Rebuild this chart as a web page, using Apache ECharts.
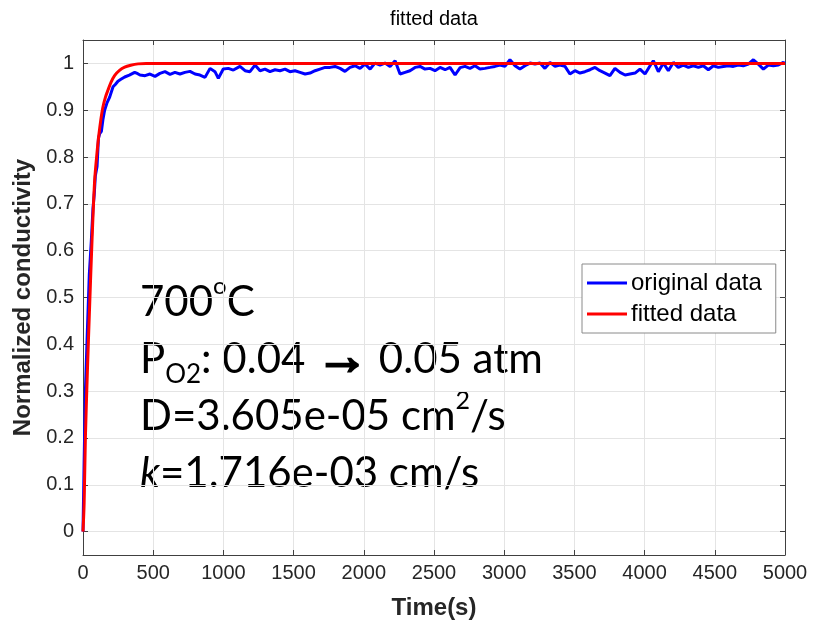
<!DOCTYPE html>
<html>
<head>
<meta charset="utf-8">
<script src="https://cdn.jsdelivr.net/npm/echarts@6/dist/echarts.min.js"></script>
<style>html,body{margin:0;padding:0;background:#fff}#c{width:813px;height:625px}</style>
</head>
<body>
<div id="c"></div>
<script>
// ---- data ----
var origTime = [0,8,17,30,45,59,71,80,88,100,110,119,131,142,154,170,190,214,230,249,270,297,330,368,390,
  406,442,477,513,548,584,620,655,691,726,762,798,833,869,905,940,964,999,1035,1071,1118,1154,1189,1225,1261,1296,1332,1368,1403,1439,1474,1510,1546,
  1582,1617,1653,1688,1724,1760,1795,1831,1866,1902,1938,1973,2009,2045,2080,2116,2151,2187,2223,2258,2294,2329,2365,2401,2436,2472,2507,2543,2579,2614,2650,2686,
  2721,2756,2792,2827,2863,2899,2934,2970,3005,3041,3077,3112,3148,3184,3219,3255,3290,3326,3362,3397,3433,3468,3504,3540,3575,3611,3647,3682,3718,3753,3789,3825,
  3861,3896,3932,3967,4003,4039,4062,4098,4134,4169,4205,4240,4276,4312,4347,4383,4418,4454,4490,4525,4561,4597,4632,4668,4703,4739,4775,4810,4846,4881,4917,4953,4988,5000];
var origVal = [0,0.15,0.30,0.42,0.55,0.62,0.69,0.72,0.76,0.78,0.84,0.85,0.855,0.88,0.90,0.915,0.928,0.95,0.955,0.962,0.966,0.971,0.975,0.981,0.978,
  0.9752,0.9738,0.9773,0.9723,0.9787,0.9823,0.9766,0.9809,0.9773,0.9809,0.9830,0.9773,0.9752,0.9702,0.9894,0.9823,0.9681,0.9879,0.9894,0.9858,0.9936,0.9844,0.9823,0.9965,0.9844,0.9879,0.9823,0.9865,0.9844,0.9879,0.9823,0.9844,0.9809,
  0.9773,0.9794,0.9844,0.9879,0.9915,0.9915,0.9936,0.9894,0.9830,0.9915,0.9950,0.9894,0.9986,0.9879,1.0007,0.9965,1.0007,0.9936,1.0057,0.9773,0.9809,0.9844,0.9915,0.9936,0.9879,0.9894,0.9844,0.9915,0.9865,0.9915,0.9752,0.9910,
  0.9936,0.9894,0.9950,0.9879,0.9894,0.9915,0.9936,0.9965,0.9936,1.0078,0.9950,0.9879,0.9950,1.0007,0.9986,1.0007,0.9894,1.0021,0.9936,0.9965,0.9936,0.9773,0.9844,0.9794,0.9823,0.9865,0.9915,0.9844,0.9794,0.9738,0.9894,0.9809,
  0.9752,0.9773,0.9794,0.9879,0.9773,0.9950,1.0057,0.9823,1.0007,0.9844,1.0021,0.9915,0.9965,0.9915,0.9950,0.9915,0.9950,0.9865,0.9950,0.9915,0.9936,0.9950,0.9936,0.9965,0.9950,0.9986,1.0078,0.9986,0.9879,0.9965,0.9950,0.9965,1.0021,1.0];
var fitTime = [0,8,17,31,47,64,83,100,112,127,142,160,178,200,225,260,297,340,392,450,5000];
var fitVal = [0,0.06,0.2,0.34,0.48,0.62,0.75,0.81,0.845,0.88,0.907,0.928,0.943,0.96,0.974,0.985,0.992,0.996,0.999,1.0,1.0];
var seriesNames = ['original data','fitted data'];
var titleText = 'fitted data';
var xName = 'Time(s)';
var yName = 'Normalized conductivity';

function pairs(t, v){ var out=[]; for (var i=0;i<t.length;i++) out.push([t[i], v[i]]); return out; }

var chart = echarts.init(document.getElementById('c'), null, {renderer:'canvas'});
var font = 'Liberation Sans, Arial, sans-serif';
var axisColor = '#404040';
var common = {
  axisLine: {show:true, onZero:false, lineStyle:{color:axisColor, width:1}},
  axisTick: {show:true, inside:true, length:5, lineStyle:{color:axisColor}}
};
chart.setOption({
  animation: false,
  backgroundColor: '#fff',
  grid: {left:83, right:28, top:40, bottom:68, containLabel:false},
  xAxis: [
    {type:'value', min:0, max:5000, interval:500, position:'bottom',
     axisLine: common.axisLine, axisTick: common.axisTick,
     axisLabel:{color:'#262626', fontSize:20, fontFamily:font, margin:8, formatter:function(v){ return String(v); }},
     splitLine:{show:true, lineStyle:{color:'#e4e4e4', width:1}},
     name:xName, nameLocation:'middle', nameGap:41,
     nameTextStyle:{color:'#262626', fontSize:24, fontWeight:'bold', fontFamily:font}},
    {type:'value', min:0, max:5000, interval:500, position:'top',
     axisLine: common.axisLine, axisTick: common.axisTick,
     axisLabel:{show:false}, splitLine:{show:false}}
  ],
  yAxis: [
    {type:'value', min:-0.05, max:1.05, splitNumber:11, position:'left',
     axisLine: common.axisLine, axisTick: common.axisTick,
     axisLabel:{color:'#262626', fontSize:20, fontFamily:font, margin:9, showMinLabel:false, showMaxLabel:false,
       formatter:function(v){ var r=Math.round(v*10)/10; if (Math.abs(r-v)>1e-6) return ''; return String(r); }},
     splitLine:{show:true, lineStyle:{color:'#e4e4e4', width:1}},
     name:yName, nameLocation:'middle', nameGap:43,
     nameTextStyle:{color:'#262626', fontSize:24, fontWeight:'bold', fontFamily:font}},
    {type:'value', min:-0.05, max:1.05, splitNumber:11, position:'right',
     axisLine: common.axisLine, axisTick: common.axisTick,
     axisLabel:{show:false}, splitLine:{show:false}}
  ],
  legend: {
    orient:'vertical', left:582, top:264, data:seriesNames,
    icon:'rect', itemWidth:40, itemHeight:3, itemGap:7,
    padding:[7,14,7,5], borderColor:'#8a8a8a', borderWidth:1, backgroundColor:'#fff', borderRadius:0,
    textStyle:{color:'#000', fontSize:24, fontFamily:font, padding:[0,0,0,-1]}
  },
  series: [
    {name:seriesNames[0], type:'line', data:pairs(origTime, origVal), showSymbol:false, symbol:'none',
     lineStyle:{color:'#0000ff', width:3}, itemStyle:{color:'#0000ff'}, smooth:false, z:2},
    {name:seriesNames[1], type:'line', data:pairs(fitTime, fitVal), showSymbol:false, symbol:'none',
     lineStyle:{color:'#ff0000', width:3}, itemStyle:{color:'#ff0000'}, smooth:0.3, z:3}
  ],
  graphic: [
    {type:'text', x:434, y:9, style:{text:titleText, fill:'#000', font:'20px Liberation Sans, Arial, sans-serif', align:'center'}},
    {type:'text', x:140, y:274, style:{
      text:'{m|700}{sup|o}{m|C}\n{m|P}{sub|O2}{m|: 0.04 }{ar|→}{m| 0.05 atm}\n{m|D=3.605e-05 cm}{sup2|2}{m|/s}\n{it|k}{m|=1.716e-03 cm/s}',
      fill:'#000',
      rich:{
        m:{fontSize:42, fontFamily:'Lato', lineHeight:57, fill:'#000'},
        it:{fontSize:42, fontFamily:'Lato', fontStyle:'italic', lineHeight:57, fill:'#000'},
        sup:{fontSize:24, fontFamily:'Lato', lineHeight:30, verticalAlign:'top', fill:'#000'},
        sup2:{fontSize:25, fontFamily:'Lato', lineHeight:38, verticalAlign:'top', fill:'#000'},
        sub:{fontSize:26, fontFamily:'Lato', lineHeight:24, verticalAlign:'bottom', fill:'#000'},
        ar:{fontSize:52, fontFamily:'Noto Sans', lineHeight:57, fill:'#000', stroke:'#000', lineWidth:2.5}
      }
    }}
  ]
});
</script>
</body>
</html>
